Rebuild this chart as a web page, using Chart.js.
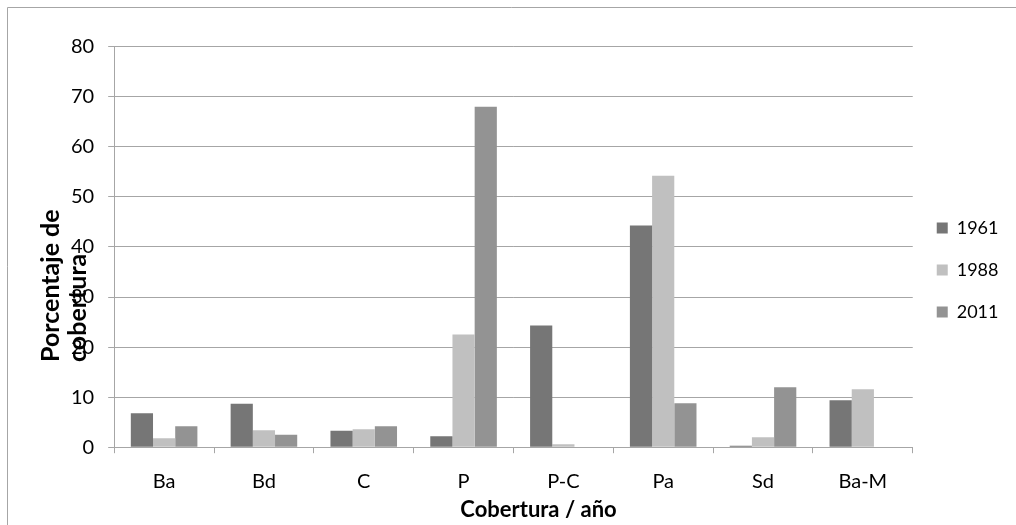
<!DOCTYPE html>
<html lang="es">
<head>
    <meta charset="UTF-8">
    <title>Porcentaje de cobertura</title>
    <style>
        body {
            margin: 0;
            background: #fff;
        }
        #chart-container {
            position: relative;
            width: 1016px;
            height: 525px;
        }
    </style>
</head>

<body>
    <div id="chart-container">
        <canvas id="myChart"></canvas>
    </div>

    <script src="https://cdn.jsdelivr.net/npm/chart.js"></script>
    <script>
        // Categories (x axis)
        var categories = ["Ba", "Bd", "C", "P", "P-C", "Pa", "Sd", "Ba-M"];

        // Series values (%)
        var values1961 = [6.8, 8.7, 3.3, 2.2, 24.3, 44.3, 0.3, 9.4];
        var values1988 = [1.8, 3.4, 3.6, 22.5, 0.6, 54.2, 2.0, 11.6];
        var values2011 = [4.2, 2.5, 4.2, 68.0, 0, 8.8, 12.0, 0];

        var seriesLabels = ["1961", "1988", "2011"];

        // Y axis range / ticks
        var yMin = 0;
        var yMax = 80;
        var yStep = 10;

        // Axis titles
        var yTitleLines = ["Porcentaje de", "cobertura"];
        var xTitle = "Cobertura / año";

        var gridColor = "#a6a6a6";

        // Frame (top and left border of the chart area)
        var framePlugin = {
            id: "frame",
            beforeDraw: function (chart) {
                var ctx = chart.ctx;
                ctx.save();
                ctx.strokeStyle = gridColor;
                ctx.lineWidth = 1;
                ctx.beginPath();
                ctx.moveTo(7.5, chart.height);
                ctx.lineTo(7.5, 7.5);
                ctx.lineTo(chart.width, 7.5);
                ctx.stroke();
                ctx.restore();
            }
        };

        // Axis titles drawn by hand (the y title wraps over the tick labels)
        var axisTitlePlugin = {
            id: "axisTitles",
            afterDraw: function (chart) {
                var ctx = chart.ctx;
                ctx.save();
                ctx.fillStyle = "#000";

                // y title, rotated, two lines starting from the same point
                ctx.font = "bold 25px Lato";
                ctx.textAlign = "left";
                ctx.textBaseline = "alphabetic";
                ctx.translate(58.5, 362);
                ctx.rotate(-Math.PI / 2);
                ctx.fillText(yTitleLines[0], 0, 0);
                ctx.fillText(yTitleLines[1], 0, 27);
                ctx.setTransform(1, 0, 0, 1, 0, 0);

                // x title
                ctx.font = "bold 22px Lato";
                ctx.textAlign = "center";
                ctx.textBaseline = "alphabetic";
                ctx.fillText(xTitle, 538.5, 516.5);
                ctx.restore();
            }
        };

        var data = {
            labels: categories,
            datasets: [
                {
                    label: seriesLabels[0],
                    data: values1961,
                    backgroundColor: "#767676"
                },
                {
                    label: seriesLabels[1],
                    data: values1988,
                    backgroundColor: "#c0c0c0"
                },
                {
                    label: seriesLabels[2],
                    data: values2011,
                    backgroundColor: "#939393"
                }
            ]
        };

        Chart.defaults.font.family = "Lato";
        Chart.defaults.color = "#000";

        var ctx = document.getElementById('myChart').getContext('2d');
        var myChart = new Chart(ctx, {
            type: 'bar',
            data: data,
            plugins: [framePlugin, axisTitlePlugin],
            options: {
                responsive: true,
                maintainAspectRatio: false,
                animation: false,
                layout: {
                    padding: { left: 57, right: 7.5, top: 46.7, bottom: 31.7 }
                },
                datasets: {
                    bar: {
                        barPercentage: 1,
                        categoryPercentage: 0.667,
                        borderWidth: 0
                    }
                },
                scales: {
                    x: {
                        grid: {
                            display: true,
                            drawOnChartArea: false,
                            drawTicks: true,
                            tickLength: 6,
                            color: gridColor
                        },
                        border: { display: true, color: gridColor },
                        ticks: {
                            font: { size: 20 },
                            padding: 16,
                            maxRotation: 0
                        },
                        // labels may run into the bottom padding, so the legend
                        // can sit a little higher
                        afterFit: function (scale) {
                            scale.height = scale.height - 15.9;
                        }
                    },
                    y: {
                        min: yMin,
                        max: yMax,
                        grid: {
                            color: gridColor,
                            tickLength: 6
                        },
                        border: { display: true, color: gridColor },
                        ticks: {
                            stepSize: yStep,
                            font: { size: 20 },
                            padding: 14
                        }
                    }
                },
                plugins: {
                    legend: {
                        position: 'right',
                        labels: {
                            boxWidth: 11,
                            boxHeight: 11,
                            padding: 24,
                            font: { size: 18 }
                        }
                    },
                    tooltip: { enabled: false }
                }
            }
        });
    </script>
</body>
</html>
